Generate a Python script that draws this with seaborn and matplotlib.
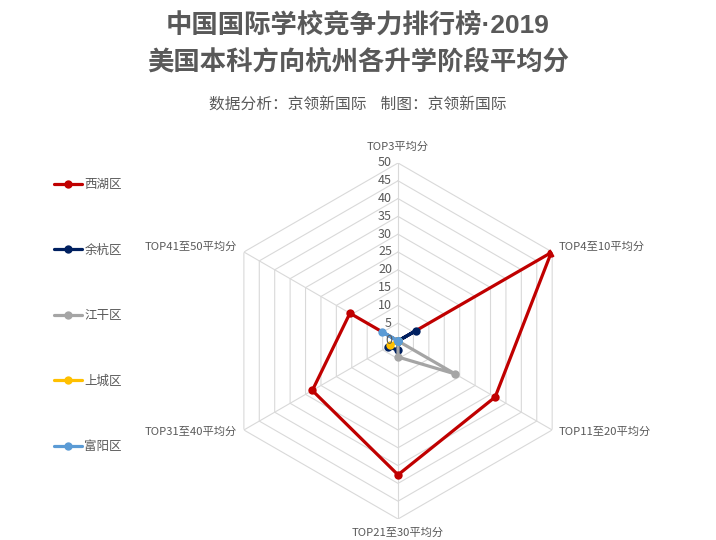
import numpy as np
import pandas as pd
import matplotlib
matplotlib.use("Agg")
import matplotlib.pyplot as plt
import seaborn as sns

# 数据
categories = ["TOP3平均分", "TOP4至10平均分", "TOP11至20平均分",
              "TOP21至30平均分", "TOP31至40平均分", "TOP41至50平均分"]
districts = ["西湖区", "余杭区", "江干区", "上城区", "富阳区"]
xihu = [0, 49.7, 31.5, 37.6, 27.8, 15.6]
yuhang = [0, 5.8, 0, 2.6, 3.2, 0]
jianggan = [0, 0, 18.5, 4.5, 0, 0]
shangcheng = [0, 0, 0, 0, 2.5, 0]
fuyang = [0, 0, 0, 0, 0, 5.3]
radial_ticks = list(range(0, 55, 5))

colors = ["#C00000", "#002060", "#A5A5A5", "#FFC000", "#5B9BD5"]
text_color = "#595959"

sns.set_style("white")
plt.rcParams['font.family'] = ['Noto Sans CJK SC', 'DejaVu Sans']

# 角度（闭合）
n = len(categories)
angles = np.linspace(0, 2 * np.pi, n, endpoint=False)
angles_closed = np.append(angles, 2 * np.pi)

rows = []
for name, vals in zip(districts, [xihu, yuhang, jianggan, shangcheng, fuyang]):
    vals_closed = list(vals) + [vals[0]]
    for a, v in zip(angles_closed, vals_closed):
        rows.append({"angle": a, "value": v, "district": name})
df = pd.DataFrame(rows)

fig = plt.figure(figsize=(7.16, 5.40), dpi=100)
ax = fig.add_axes([0.3073, 0.0389, 0.4972, 0.6593], projection="polar")
ax.set_theta_zero_location("N")
ax.set_theta_direction(-1)

# 六边形网格
grid_color = "#D9D9D9"
for r in radial_ticks[1:]:
    ax.plot(angles_closed, [r] * len(angles_closed), color=grid_color, lw=0.8, zorder=1)
for a in angles:
    ax.plot([a, a], [0, 50], color=grid_color, lw=0.8, zorder=1)

sns.lineplot(data=df, x="angle", y="value", hue="district", hue_order=districts,
             palette=colors, sort=False, estimator=None, marker="o",
             markersize=6, markeredgewidth=0, linewidth=2.3, ax=ax, zorder=3)

ax.set_ylim(0, 50)
ax.grid(False)
ax.spines["polar"].set_visible(False)
ax.set_xticks([])
ax.set_yticks([])
ax.set_xlabel("")
ax.set_ylabel("")

# 刻度标签
for r in radial_ticks:
    ax.annotate(str(r), xy=(0, r), xytext=(-6, 0), textcoords="offset pixels",
                ha="right", va="center", fontsize=9, color=text_color)

# 类别标签
offsets = [(0, 16, "center"), (6, 5, "left"), (6, -2, "left"),
           (0, -14, "center"), (-7, -2, "right"), (-7, 5, "right")]
for a, lab, (dx, dy, ha) in zip(angles, categories, offsets):
    ax.annotate(lab, xy=(a, 50), xytext=(dx, dy), textcoords="offset pixels",
                ha=ha, va="center", fontsize=8.1, color=text_color,
                annotation_clip=False)

# 图例
sns.move_legend(ax, "upper left", bbox_to_anchor=(43 / 716, 1 - 167 / 540),
                bbox_transform=fig.transFigure, frameon=False, title=None,
                labelspacing=4.2, handlelength=2.2, handletextpad=0.2,
                fontsize=9)
for t in ax.get_legend().get_texts():
    t.set_color(text_color)

# 标题
title_font = ['Liberation Sans', 'Noto Sans CJK SC']
fig.text(0.5, 1 - 25 / 540, "中国国际学校竞争力排行榜·2019", ha="center", va="center",
         fontsize=19, fontweight="bold", color=text_color, family=title_font)
fig.text(0.5, 1 - 62 / 540, "美国本科方向杭州各升学阶段平均分", ha="center", va="center",
         fontsize=19, fontweight="bold", color=text_color)
fig.text(0.5, 1 - 105 / 540, "数据分析：京领新国际    制图：京领新国际", ha="center", va="center",
         fontsize=11.3, color=text_color)

fig.savefig("out.png", dpi=100)
